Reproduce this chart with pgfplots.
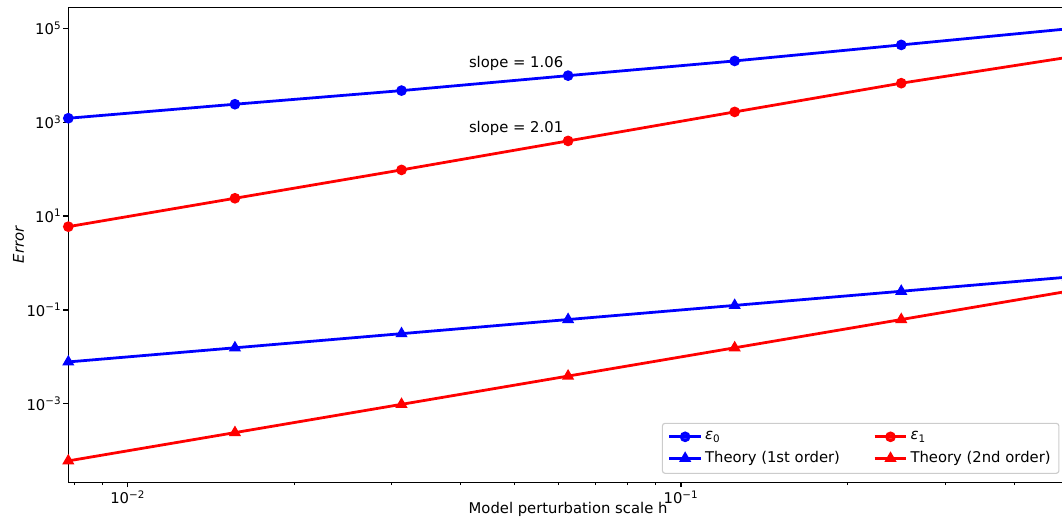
\documentclass[border=0pt]{standalone}
\usepackage{fontspec}
\setmainfont{DejaVu Sans}
\usepackage{pgfplots}
\pgfplotsset{compat=1.18}
\usepackage{pgfplotstable}
\newcommand{\tpow}[1]{10\textsuperscript{#1}}
\newcommand{\fs}{\fontsize{10.7}{12.8}\selectfont}
\pgfplotstableread{
h eps0 eps1 tone ttwo
0.0078125 1210 5.94 0.0078125 6.1035e-5
0.015625 2405 23.9 0.015625 2.4414e-4
0.03125 4690 96 0.03125 9.7656e-4
0.0625 9770 398 0.0625 3.90625e-3
0.125 20100 1650 0.125 0.015625
0.25 44100 6750 0.25 0.0625
0.5 97000 24000 0.5 0.25
}\data
\begin{document}
\begin{tikzpicture}
\pgfresetboundingbox
\path[use as bounding box] (0,0) rectangle (764.6bp,375.1bp);
\begin{axis}[
  at={(49.2bp,27.9bp)}, anchor=south west,
  scale only axis, width=719.6bp, height=342bp,
  xmode=log, ymode=log,
  xmin=0.0078125, xmax=0.5, ymin=2.14e-5, ymax=2.8e5,
  xtick={0.01,0.1}, xticklabels={\tpow{−2},\tpow{−1}},
  minor xtick={0.008,0.009,0.02,0.03,0.04,0.05,0.06,0.07,0.08,0.09,0.2,0.3,0.4},
  ytick={1e-3,1e-1,1e1,1e3,1e5}, yticklabels={\tpow{−3},\tpow{−1},\tpow{1},\tpow{3},\tpow{5}},
  minor ytick={},
  tick align=outside, xtick pos=bottom, ytick pos=left,
  major tick length=3.5bp, minor tick length=2bp,
  every tick/.style={black, line width=0.8bp},
  axis line style={line width=0.8bp},
  tick label style={font=\fs},
  xticklabel style={yshift=1bp},
  yticklabel style={xshift=2bp},
  xlabel={Model perturbation scale h},
  ylabel={\itshape Error},
  xlabel style={yshift=8bp},
  ylabel style={yshift=-5bp},
  label style={font=\fs},
  legend columns=2,
  legend cell align=left,
  legend style={at={(1,0)}, anchor=south east, xshift=-6bp, yshift=6bp,
    draw=black!20, fill=white, fill opacity=0.8, text opacity=1,
    rounded corners=2bp, line width=0.8bp, font=\fs,
    inner xsep=4bp, inner ysep=4bp,
    /tikz/every even column/.append style={column sep=22bp},
    row sep=3bp},
  legend image code/.code={\draw[mark repeat=2,mark phase=2] plot coordinates {(0bp,0bp) (11.4bp,0bp) (22.8bp,0bp)};},
  every axis plot/.append style={line width=2bp},
]
\addplot[blue, mark=*, mark size=2.8bp] table[x=h,y=eps0] {\data};
\addlegendentry{\textit{ε}\textsubscript{0}}
\addplot[red, mark=*, mark size=2.8bp] table[x=h,y=eps1] {\data};
\addlegendentry{\textit{ε}\textsubscript{1}}
\addplot[blue, mark=triangle*, mark size=3.1bp] table[x=h,y=tone] {\data};
\addlegendentry{Theory (1st order)}
\addplot[red, mark=triangle*, mark size=3.1bp] table[x=h,y=ttwo] {\data};
\addlegendentry{Theory (2nd order)}
\node[anchor=base east, font=\fs] at (axis cs:0.0625,14655) {slope = 1.06};
\node[anchor=base east, font=\fs] at (axis cs:0.0625,597) {slope = 2.01};
\end{axis}
\end{tikzpicture}
\end{document}
